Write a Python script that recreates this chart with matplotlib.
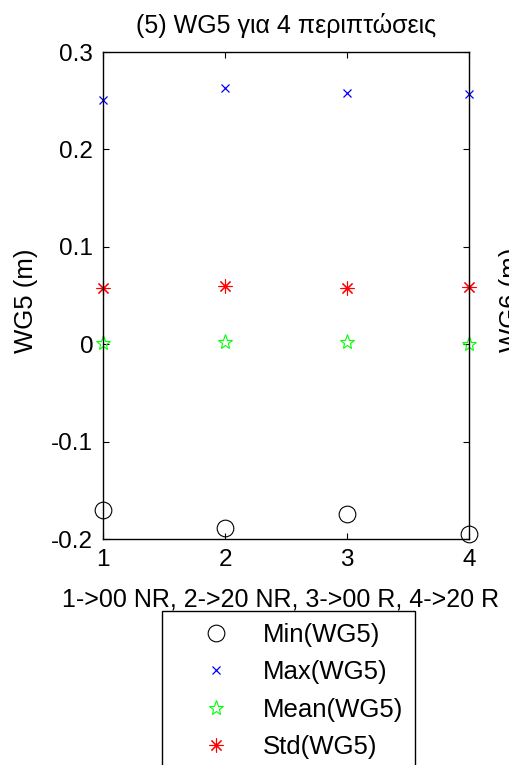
import matplotlib.pyplot as plt
from matplotlib.patches import Rectangle

plt.rcParams['font.family'] = ['Liberation Sans', 'DejaVu Sans']

# cases and statistics of WG5
cases = [1, 2, 3, 4]
wg5_min = [-0.170, -0.189, -0.174, -0.195]
wg5_max = [0.251, 0.263, 0.258, 0.257]
wg5_mean = [0.001, 0.002, 0.002, 0.000]
wg5_std = [0.058, 0.060, 0.058, 0.059]
yticks = [-0.2, -0.1, 0, 0.1, 0.2, 0.3]
ytick_labels = ['-0.2', '-0.1', '0', '0.1', '0.2', '0.3']

fig = plt.figure(figsize=(5.09, 7.65), dpi=100)
ax = fig.add_axes([0.2024, 0.2954, 0.7190, 0.6366])

ax.plot(cases, wg5_min, 'o', ms=12, mfc='none', mec='black', mew=0.8, clip_on=False, label='Min(WG5)')
ax.plot(cases, wg5_max, 'x', ms=6, color='blue', mew=0.9, clip_on=False, label='Max(WG5)')
ax.plot(cases, wg5_mean, '*', ms=11, mfc='none', mec='#00ff00', mew=0.8, clip_on=False, label='Mean(WG5)')
ax.plot(cases, wg5_std, marker=(8, 2, 0), ls='none', ms=10, color='red', mew=0.8, clip_on=False, label='Std(WG5)')

ax.set_xlim(1, 4)
ax.set_ylim(-0.2, 0.3)
ax.set_xticks(cases)
ax.set_yticks(yticks)
ax.set_yticklabels(ytick_labels)
ax.tick_params(direction='in', top=True, right=True, length=4, labelsize=17.5, pad=7)
for s in ax.spines.values():
    s.set_linewidth(1.0)

ax.set_title('(5) WG5 για 4 περιπτώσεις', fontsize=18, pad=14)
ax.set_xlabel('1->00 NR, 2->20 NR, 3->00 R, 4->20 R', fontsize=18)
ax.xaxis.set_label_coords(0.484, -0.0995)
ax.xaxis.label.set_va('top')
ax.set_ylabel('WG5 (m)', fontsize=18.5)
ax.yaxis.set_label_coords(-0.178, 0.49)

# clipped label of the neighbouring subplot (cut by the right edge, as in the original)
fig.text(0.981, 0.608, 'WG6 (m)', rotation=90, fontsize=18.5, ha='left', va='center')

# legend box (runs off the bottom of the figure)
fig.patches.append(Rectangle((0.318, -0.05), 0.497, 0.2513, transform=fig.transFigure,
                             fill=False, edgecolor='black', linewidth=1.0))
leg = fig.legend(loc='upper left', bbox_to_anchor=(0.318, 0.2013), fontsize=18.5,
                 frameon=False, borderpad=0.47, labelspacing=0.52, handletextpad=0.2,
                 borderaxespad=0, handlelength=3.26)

plt.savefig('out.png', dpi=100)
